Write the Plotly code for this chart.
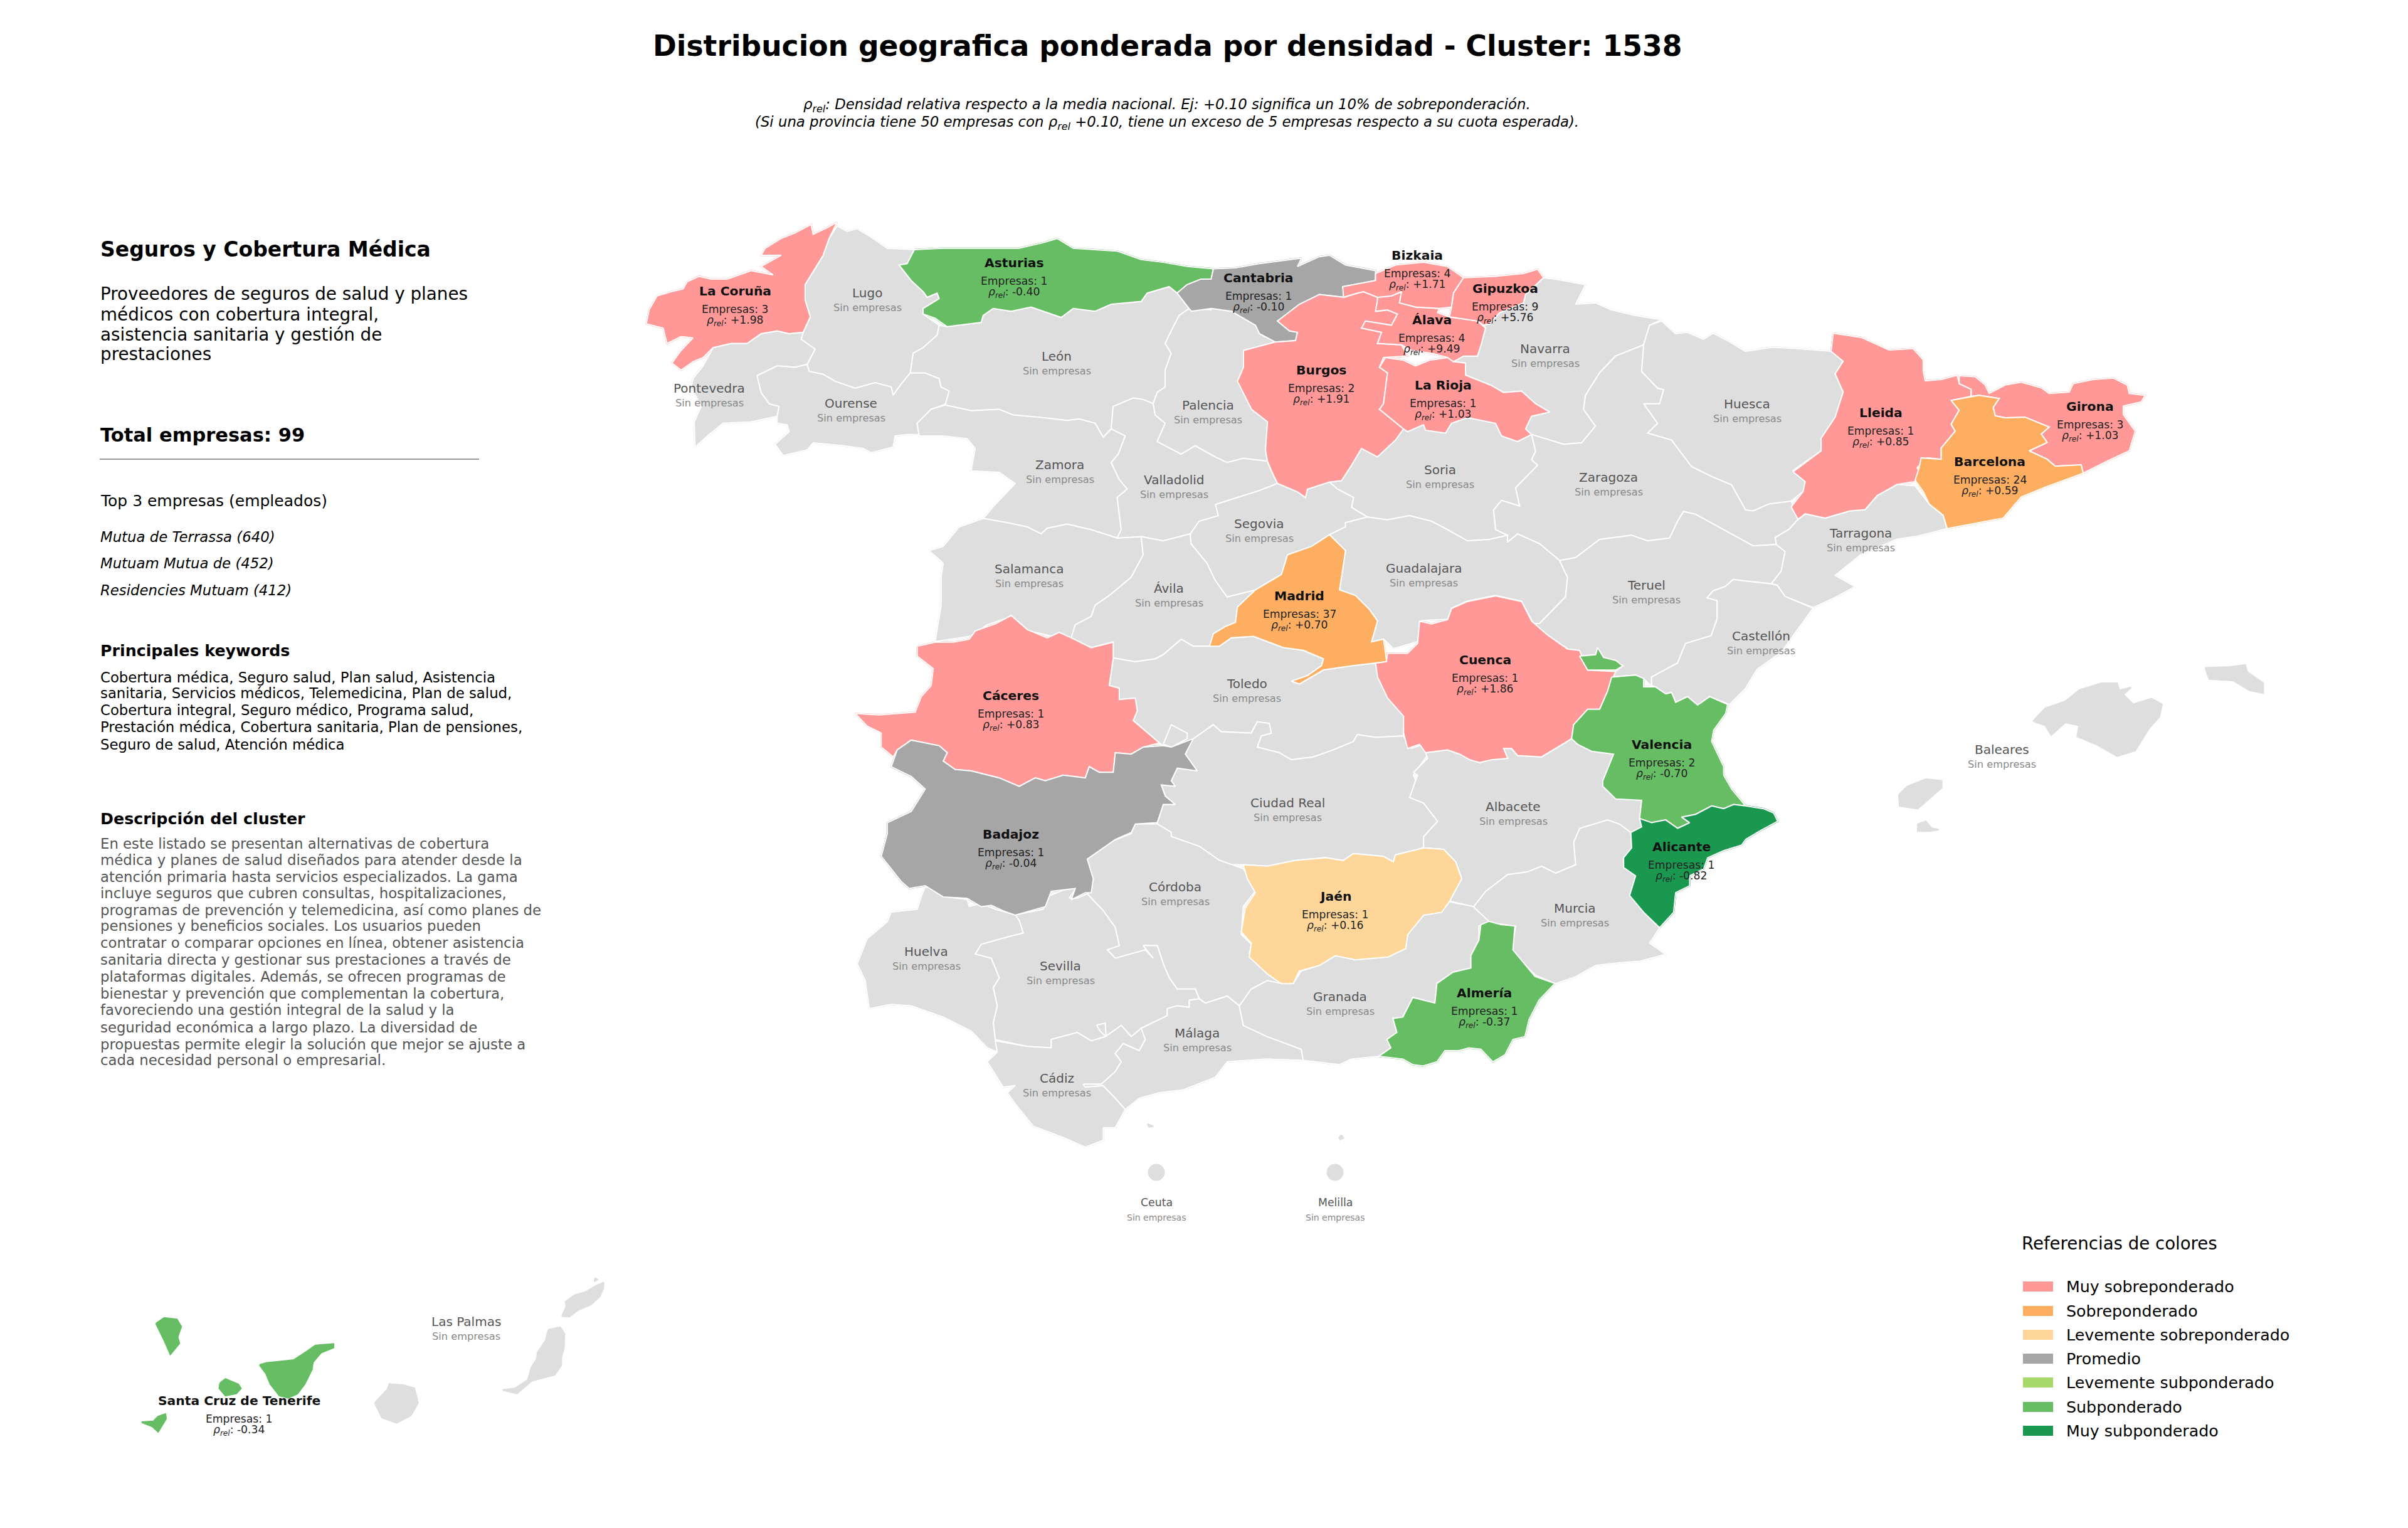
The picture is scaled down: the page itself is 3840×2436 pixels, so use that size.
import plotly.graph_objects as go

# ---------- outlines; each one is given in the frame named next to it
FRAMES = {
    "A": (1000, 340, .638, .4464), "B": (1900, 340, .638, .4464), "C": (2700, 500, .638, .4464),
    "D": (1300, 950, .638, .4464), "E": (2200, 950, .638, .4464), "F": (1300, 1300, .638, .4464),
    "G": (2100, 1300, .638, .4464), "H": (150, 1950, .574, .3333),
}
LA_CORUNA = [(525,32),(505,90),(490,150),(465,210),(445,255),(445,310),(458,370),(440,425),(405,430),(375,420),(335,430),(300,465),(260,465),(215,480),(190,515),(165,530),(135,560),(112,535),(135,490),(165,445),(135,440),(100,465),(90,410),(48,395),(55,345),(75,295),(110,280),(140,270),(150,245),(180,225),(210,235),(250,235),(310,205),(365,220),(335,190),(385,150),(335,150),(345,125),(385,90),(420,70),(460,40),(465,75),(495,55)]
LUGO = [(525,45),(550,65),(575,55),(610,85),(650,125),(718,130),(700,180),(680,185),(710,240),(740,280),(750,300),(775,285),(780,305),(740,340),(740,360),(780,400),(775,435),(740,480),(715,500),(708,570),(685,610),(665,650),(660,620),(620,605),(570,625),(520,600),(490,575),(455,565),(450,540),(470,485),(435,450),(440,425),(458,370),(445,310),(445,255),(465,210),(490,150),(505,90)]
PONTEVEDRA = [(440,425),(435,450),(470,485),(450,540),(420,550),(375,545),(325,580),(335,640),(355,680),(380,690),(375,725),(310,745),(240,750),(205,790),(170,835),(168,745),(185,690),(160,620),(165,590),(190,545),(215,480),(260,465),(300,465),(335,430),(375,420),(405,430)]
OURENSE = [(325,580),(375,545),(420,550),(450,540),(455,565),(490,575),(520,600),(570,625),(620,605),(660,620),(665,650),(685,610),(708,570),(745,570),(780,590),(785,620),(805,635),(800,680),(760,700),(725,750),(730,790),(700,790),(670,795),(665,835),(610,855),(590,840),(540,830),(465,820),(450,845),(390,865),(370,825),(405,780),(400,755),(375,750),(375,725),(380,690),(355,680),(335,640)]
ASTURIAS = [(718,130),(790,125),(890,125),(980,125),(1040,105),(1075,90),(1115,125),(1175,130),(1225,135),(1285,165),(1340,175),(1400,190),(1465,198),(1460,235),(1435,235),(1400,255),(1375,285),(1355,262),(1300,285),(1285,315),(1210,325),(1170,350),(1115,340),(1085,372),(1040,350),(1010,335),(960,350),(915,340),(890,365),(885,390),(800,405),(770,375),(740,360),(740,340),(780,305),(775,285),(750,300),(740,280),(710,240),(680,185),(700,180)]
LEON = [(780,400),(800,405),(885,390),(890,365),(915,340),(960,350),(1010,335),(1040,350),(1085,372),(1115,340),(1170,350),(1210,325),(1285,315),(1300,285),(1355,262),(1375,285),(1405,340),(1380,365),(1360,420),(1345,465),(1360,500),(1345,560),(1345,620),(1325,640),(1315,680),(1290,665),(1265,660),(1215,690),(1210,770),(1190,800),(1170,750),(1130,735),(1100,740),(1040,730),(965,720),(930,700),(860,705),(795,685),(805,635),(785,620),(780,590),(745,570),(708,570),(715,500),(740,480),(775,435)]
ZAMORA = [(795,685),(860,705),(930,700),(965,720),(1040,730),(1100,740),(1130,735),(1170,750),(1190,800),(1210,770),(1245,795),(1228,860),(1210,890),(1230,950),(1250,985),(1225,1015),(1235,1130),(1225,1160),(1160,1130),(1100,1110),(1050,1125),(1035,1145),(1000,1120),(950,1105),(890,1090),(920,1040),(970,965),(930,925),(860,920),(870,840),(850,805),(790,795),(730,795),(725,750),(760,700)]
SALAMANCA = [(890,1090),(950,1105),(1000,1120),(1035,1145),(1050,1125),(1100,1110),(1160,1130),(1225,1160),(1285,1155),(1290,1220),(1260,1300),(1210,1360),(1170,1400),(1160,1440),(1120,1470),(1110,1520),(1060,1510),(1000,1490),(960,1440),(900,1470),(860,1510),(770,1530),(785,1400),(785,1300),(790,1250),(755,1205),(790,1190),(830,1120)]
VALLADOLID = [(1210,770),(1215,690),(1265,660),(1290,665),(1315,680),(1320,720),(1345,750),(1325,815),(1345,830),(1385,860),(1420,830),(1470,870),(1500,890),(1540,875),(1600,885),(1610,920),(1626,965),(1581,990),(1471,1040),(1478,1080),(1430,1100),(1408,1145),(1340,1170),(1285,1155),(1225,1160),(1235,1130),(1225,1015),(1250,985),(1230,950),(1210,890),(1228,860),(1245,795)]
PALENCIA = [(1405,340),(1460,345),(1461,340),(1511,350),(1571,400),(1581,430),(1621,460),(1541,490),(1541,550),(1526,600),(1561,700),(1601,745),(1596,845),(1600,885),(1540,875),(1500,890),(1470,870),(1420,830),(1385,860),(1345,830),(1325,815),(1345,750),(1320,720),(1315,680),(1325,640),(1345,620),(1345,560),(1360,500),(1345,465),(1360,420),(1380,365)]
AVILA = [(1285,1155),(1340,1170),(1408,1145),(1410,1180),(1450,1250),(1470,1310),(1500,1370),(1571,1345),(1526,1406),(1521,1461),(1496,1476),(1466,1501),(1456,1546),(1415,1546),(1385,1521),(1340,1576),(1320,1591),(1270,1601),(1215,1588),(1215,1531),(1160,1551),(1110,1516),(1120,1470),(1160,1440),(1170,1400),(1210,1360),(1260,1300),(1290,1220)]
CANTABRIA = [(55,198),(110,195),(170,180),(220,170),(275,160),(265,190),(320,155),(345,150),(385,185),(460,205),(460,240),(378,262),(382,300),(320,290),(270,325),(215,385),(245,420),(265,425),(260,455),(210,460),(170,430),(160,400),(100,350),(50,340),(0,350),(-6,340),(-36,285),(-11,255),(24,235),(49,235)]
BIZKAIA = [(460,215),(510,185),(580,175),(640,190),(680,230),(655,285),(650,335),(620,340),(560,335),(520,320),(525,280),(500,295),(465,300),(430,280),(415,285),(380,300),(378,262),(460,240)]
GIPUZKOA = [(680,230),(760,225),(830,215),(865,200),(880,230),(835,290),(830,320),(770,355),(745,395),(730,400),(715,385),(645,370),(650,335),(655,285)]
ALAVA = [(465,300),(500,295),(525,280),(520,320),(560,335),(620,340),(615,355),(645,370),(715,385),(735,410),(725,465),(715,510),(680,510),(655,530),(640,515),(600,500),(550,490),(525,470),(465,465),(475,425),(425,410),(435,385),(500,400),(515,360),(490,345),(460,350),(465,310)]
BURGOS = [(130,490),(210,460),(260,455),(265,425),(245,420),(215,385),(270,325),(320,290),(382,300),(415,285),(430,280),(465,300),(465,350),(490,345),(515,360),(500,400),(435,385),(425,410),(475,425),(465,465),(525,470),(540,510),(480,515),(470,550),(490,570),(480,680),(470,700),(530,770),(510,810),(465,870),(425,840),(400,900),(375,955),(345,960),(290,985),(285,1015),(265,995),(215,965),(200,920),(190,885),(185,845),(190,745),(150,700),(115,600),(130,550)]
LA_RIOJA = [(485,515),(530,525),(560,545),(595,525),(640,515),(655,530),(685,535),(685,578),(750,615),(780,640),(825,635),(860,680),(895,710),(850,725),(835,770),(850,790),(815,815),(775,795),(760,750),(725,740),(690,730),(650,750),(635,785),(585,775),(580,755),(540,780),(530,770),(470,700),(480,680),(490,570),(470,550)]
NAVARRA = [(730,400),(745,395),(770,355),(830,320),(835,290),(880,230),(910,235),(985,255),(960,325),(1010,320),(1050,345),(1110,365),(1175,380),(1145,400),(1130,470),(1060,510),(1020,570),(985,650),(980,700),(1010,760),(975,820),(930,825),(850,790),(835,770),(850,725),(895,710),(860,680),(825,635),(780,640),(750,615),(685,578),(685,535),(655,530),(680,510),(715,510),(725,465),(735,410)]
HUESCA = [(1175,385),(1210,430),(1240,425),(1280,450),(1304,428),(1344,458),(1384,493),(1454,478),(1509,483),(1599,493),(1629,528),(1609,573),(1629,638),(1609,728),(1574,803),(1574,848),(1504,918),(1534,958),(1529,993),(1499,1028),(1444,1038),(1404,1063),(1385,1060),(1350,970),(1300,940),(1250,905),(1200,810),(1140,785),(1165,750),(1130,680),(1170,680),(1180,630),(1165,625),(1125,565),(1130,470),(1145,400)]
ZARAGOZA = [(850,790),(930,825),(975,820),(1010,760),(980,700),(985,650),(1020,570),(1060,510),(1130,470),(1125,565),(1165,625),(1180,630),(1170,680),(1130,680),(1165,750),(1140,785),(1200,810),(1250,905),(1300,940),(1350,970),(1385,1060),(1404,1063),(1444,1038),(1499,1028),(1516,1093),(1494,1128),(1459,1158),(1462,1183),(1404,1188),(1314,1118),(1260,1075),(1230,1065),(1215,1100),(1195,1160),(1140,1170),(1100,1150),(1020,1165),(960,1230),(920,1240),(870,1180),(815,1145),(790,1175),(790,1150),(760,1130),(755,1060),(775,1025),(820,1045),(810,980),(865,900),(850,880),(860,850)]
SORIA = [(530,770),(540,780),(580,755),(585,775),(635,785),(650,750),(690,730),(725,740),(760,750),(775,795),(815,815),(850,790),(860,850),(850,880),(865,900),(810,980),(820,1045),(775,1025),(755,1060),(760,1130),(790,1150),(745,1165),(690,1170),(640,1130),(600,1100),(545,1080),(490,1095),(440,1085),(400,1050),(405,1015),(365,985),(345,960),(375,955),(400,900),(425,840),(465,870),(510,810)]
SEGOVIA = [(215,965),(265,995),(285,1015),(290,985),(345,960),(365,985),(405,1015),(400,1050),(440,1085),(385,1105),(385,1120),(345,1148),(300,1190),(240,1220),(225,1290),(160,1345),(89,1370),(59,1310),(39,1250),(-1,1180),(-3,1145),(19,1100),(67,1080),(60,1040),(170,990)]
MADRID = [(345,1148),(385,1205),(375,1300),(370,1345),(410,1365),(445,1415),(465,1456),(450,1531),(480,1521),(488,1601),(460,1606),(400,1616),(330,1631),(300,1656),(270,1681),(250,1671),(290,1651),(325,1616),(330,1591),(280,1561),(230,1551),(155,1511),(100,1516),(70,1546),(45,1546),(55,1501),(85,1476),(110,1461),(115,1406),(160,1345),(225,1290),(240,1220),(300,1190)]
GUADALAJARA = [(440,1085),(490,1095),(545,1080),(600,1100),(640,1130),(690,1170),(745,1165),(790,1150),(790,1175),(815,1145),(870,1180),(920,1240),(940,1300),(935,1370),(870,1465),(855,1465),(825,1385),(760,1365),(690,1385),(650,1410),(640,1450),(575,1455),(565,1530),(505,1555),(480,1521),(450,1531),(465,1456),(445,1415),(410,1365),(370,1345),(375,1300),(385,1205),(345,1148),(385,1120),(385,1105)]
TERUEL = [(920,1240),(960,1230),(1020,1165),(1100,1150),(1140,1170),(1195,1160),(1215,1100),(1230,1065),(1260,1075),(1314,1118),(1404,1188),(1462,1183),(1484,1208),(1474,1278),(1449,1323),(1354,1308),(1334,1333),(1304,1348),(1289,1373),(1314,1383),(1314,1448),(1299,1508),(1254,1538),(1235,1536),(1215,1606),(1150,1656),(1150,1690),(1130,1661),(1110,1649),(1050,1656),(1060,1636),(1078,1616),(1030,1586),(1015,1551),(1010,1576),(970,1581),(970,1561),(940,1556),(890,1506),(855,1465),(870,1465),(935,1370),(940,1300)]
LLEIDA = [(350,70),(420,85),(490,130),(550,125),(575,165),(575,205),(580,240),(620,235),(660,220),(665,250),(695,270),(695,295),(645,310),(665,345),(645,395),(655,420),(640,445),(620,480),(620,520),(585,515),(560,550),(575,595),(510,610),(460,650),(430,700),(390,705),(330,730),(280,715),(262,735),(245,690),(275,635),(280,600),(250,565),(320,490),(320,445),(355,370),(375,280),(355,215),(375,170),(345,135)]
GIRONA = [(665,222),(705,225),(730,255),(740,285),(780,255),(820,245),(870,265),(890,285),(940,280),(950,250),(1000,235),(1050,230),(1085,255),(1090,285),(1130,292),(1120,315),(1075,330),(1075,360),(1105,420),(1090,490),(1030,530),(975,570),(970,540),(905,545),(885,520),(840,490),(885,460),(870,430),(890,405),(830,370),(780,372),(755,365),(750,335),(765,303),(715,292),(695,295),(695,270),(665,250)]
BARCELONA = [(645,310),(715,292),(765,303),(750,335),(755,365),(780,372),(830,370),(890,405),(870,430),(885,460),(840,490),(885,520),(905,545),(970,540),(975,570),(880,620),(820,655),(775,730),(635,768),(625,720),(590,680),(575,635),(555,595),(565,550),(570,515),(620,520),(620,480),(640,445),(655,420),(645,395),(665,345)]
TARRAGONA = [(262,735),(280,715),(330,730),(390,705),(430,700),(460,650),(510,610),(555,615),(590,680),(625,720),(635,768),(560,795),(510,805),(420,860),(355,935),(405,975),(360,1010),(300,1050),(230,1010),(210,970),(195,965),(220,920),(230,850),(208,825),(205,800),(240,770)]
CASTELLON = [(100,950),(195,965),(210,970),(230,1010),(300,1052),(265,1120),(220,1210),(160,1270),(130,1340),(91,1396),(41,1368),(11,1398),(-14,1368),(-44,1388),(-54,1353),(-69,1358),(-94,1333),(-104,1328),(-104,1298),(-39,1248),(-19,1178),(45,1150),(60,1090),(60,1025),(35,1015),(50,990),(80,975)]
CACERES = [(255,180),(300,165),(345,165),(385,155),(400,125),(450,100),(490,70),(530,120),(580,150),(610,130),(640,150),(690,185),(745,165),(745,222),(735,320),(760,330),(760,370),(800,365),(805,410),(795,445),(860,525),(820,540),(790,565),(750,560),(745,630),(710,630),(685,610),(675,650),(620,640),(575,660),(550,650),(510,680),(460,650),(390,625),(350,620),(320,590),(330,560),(310,535),(240,515),(205,550),(195,575),(165,540),(165,490),(130,465),(100,420),(160,425),(250,415),(265,360),(290,320),(295,260),(255,215)]
BADAJOZ = [(240,515),(310,535),(330,560),(320,590),(350,620),(390,625),(460,650),(510,680),(550,650),(575,660),(620,640),(675,650),(685,610),(710,630),(745,630),(750,560),(790,565),(820,540),(870,535),(890,540),(945,510),(925,565),(955,625),(905,615),(890,660),(900,680),(865,675),(875,715),(900,745),(870,745),(855,810),(800,815),(790,845),(750,870),(680,940),(695,1010),(690,1060),(675,1060),(640,1085),(650,1045),(590,1055),(575,1110),(500,1140),(470,1125),(440,1105),(415,1110),(380,1080),(320,1075),(275,1035),(235,1045),(215,1020),(165,930),(180,850),(180,810),(240,770),(275,690),(240,645),(190,610),(205,550)]
TOLEDO = [(745,222),(800,235),(850,225),(870,210),(915,155),(945,180),(985,180),(1010,180),(1040,150),(1095,145),(1170,185),(1220,195),(1270,225),(1265,250),(1230,285),(1190,305),(1210,315),(1270,265),(1340,250),(1400,240),(1420,310),(1445,370),(1475,430),(1470,500),(1400,505),(1355,495),(1345,520),(1295,550),(1245,575),(1190,585),(1160,560),(1105,540),(1115,500),(1140,490),(1135,455),(1105,450),(1090,490),(1015,485),(995,460),(950,510),(890,540),(870,535),(860,525),(795,445),(805,410),(800,365),(760,370),(760,330),(735,320)]
TOLEDO_ENCLAVE = [(870,530),(890,460),(930,490),(930,510),(890,540)]
CIUDAD_REAL = [(955,625),(925,565),(945,510),(995,460),(1015,485),(1090,490),(1105,450),(1135,455),(1140,490),(1115,500),(1105,540),(1160,560),(1190,585),(1245,575),(1295,550),(1345,520),(1355,495),(1400,505),(1470,500),(1490,545),(1520,530),(1530,570),(1495,640),(1505,670),(1486,720),(1521,740),(1556,805),(1521,860),(1521,900),(1450,925),(1445,950),(1420,930),(1345,920),(1320,945),(1275,935),(1200,945),(1130,965),(1070,960),(1020,960),(960,900),(890,860),(855,820),(855,810),(870,745),(900,745),(875,715),(865,675),(900,680),(890,660),(905,615)]
JAEN = [(1070,960),(1130,965),(1200,945),(1275,935),(1320,945),(1345,920),(1420,930),(1445,950),(1450,925),(1521,900),(1571,905),(1601,950),(1616,1010),(1586,1090),(1566,1130),(1521,1140),(1481,1210),(1476,1260),(1431,1290),(1390,1295),(1350,1300),(1300,1285),(1260,1320),(1210,1340),(1195,1385),(1165,1385),(1130,1350),(1085,1290),(1090,1240),(1065,1200),(1075,1115),(1100,1060),(1080,1010)]
CUENCA = [(-10,240),(17,235),(20,205),(70,205),(95,170),(100,90),(130,100),(170,85),(180,45),(220,20),(290,0),(355,20),(380,90),(420,140),(470,190),(500,195),(520,265),(590,270),(570,340),(550,405),(520,405),(485,460),(480,510),(405,575),(345,570),(330,545),(310,545),(320,580),(280,585),(250,595),(225,585),(200,565),(170,550),(115,560),(100,530),(70,545),(60,490),(60,430),(20,365),(-5,290)]
ADEMUZ = [(500,215),(540,210),(545,185),(560,220),(590,230),(608,250),(590,265),(520,265)]
VALENCIA = [(580,290),(640,283),(660,295),(660,325),(690,325),(715,350),(730,345),(740,380),(770,360),(795,390),(825,360),(870,388),(865,420),(835,480),(830,520),(860,610),(860,640),(880,690),(915,750),(885,745),(860,760),(830,750),(790,780),(755,790),(775,810),(745,830),(715,800),(680,810),(650,795),(655,730),(590,725),(558,680),(558,660),(585,565),(530,555),(495,530),(480,510),(485,460),(520,405),(550,405),(570,340)]
ALICANTE = [(650,795),(680,810),(715,800),(745,830),(775,810),(755,790),(790,780),(830,750),(860,760),(885,745),(915,750),(960,760),(985,775),(995,805),(950,840),(915,870),(905,890),(860,910),(820,935),(810,975),(775,1000),(775,1035),(740,1060),(735,1130),(700,1185),(660,1130),(625,1070),(640,1000),(610,970),(610,935),(630,900),(628,845),(655,825)]
MURCIA = [(628,845),(630,900),(610,935),(610,970),(640,1000),(625,1070),(660,1130),(700,1185),(675,1240),(715,1280),(650,1305),(600,1310),(540,1320),(490,1360),(440,1385),(390,1355),(330,1270),(340,1180),(270,1165),(235,1110),(265,1055),(320,995),(370,985),(405,965),(440,990),(490,960),(485,880),(500,830),(570,800),(600,815),(640,840)]
ALBACETE = [(115,560),(170,550),(200,565),(225,585),(250,595),(280,585),(320,580),(310,545),(330,545),(345,570),(405,575),(480,510),(495,530),(530,555),(585,565),(558,660),(558,680),(590,725),(655,730),(650,795),(655,825),(628,845),(600,815),(570,800),(500,830),(485,880),(490,960),(440,990),(405,965),(370,985),(320,995),(265,1055),(235,1110),(175,1090),(205,1010),(190,950),(160,905),(110,900),(110,860),(145,805),(110,740),(75,720),(95,640),(85,630),(120,580)]
CORDOBA = [(855,30),(890,60),(890,75),(960,110),(1010,160),(1070,190),(1085,220),(1100,270),(1070,325),(1065,425),(1090,460),(1085,495),(1130,550),(1165,600),(1130,590),(1090,620),(1060,680),(1030,645),(975,670),(960,655),(950,620),(905,620),(885,580),(870,530),(855,465),(820,465),(845,510),(825,480),(750,510),(730,480),(760,465),(750,400),(720,340),(680,280),(690,270),(695,225),(680,190),(680,155),(745,90),(790,65),(800,30)]
SEVILLA = [(500,355),(570,335),(580,290),(640,255),(650,265),(635,295),(655,295),(680,280),(720,340),(750,400),(760,465),(730,480),(750,510),(825,480),(845,510),(820,465),(855,465),(870,530),(885,580),(905,620),(950,620),(960,655),(935,660),(935,685),(905,680),(880,690),(880,715),(815,760),(790,790),(765,750),(725,790),(690,805),(655,775),(590,800),(590,830),(530,825),(450,800),(445,740),(455,680),(445,615),(460,580),(440,510),(400,495),(415,460),(490,430),(520,420),(510,375)]
SEVILLA_ENCLAVE = [(703,748),(725,742),(727,790),(712,770)]
HUELVA = [(275,255),(315,265),(320,290),(380,300),(385,325),(415,315),(450,335),(500,355),(510,375),(520,420),(490,430),(415,460),(400,495),(440,510),(460,580),(445,615),(455,680),(445,740),(450,800),(455,845),(430,830),(390,770),(320,720),(240,680),(190,675),(135,690),(125,590),(105,530),(130,440),(180,380),(190,345),(255,335),(265,290)]
CADIZ = [(450,805),(530,825),(590,830),(590,800),(655,775),(690,805),(725,790),(765,750),(790,790),(815,760),(825,800),(810,840),(770,815),(750,850),(765,880),(750,915),(715,960),(670,960),(675,970),(720,965),(750,1010),(775,1050),(750,1115),(720,1115),(720,1160),(675,1185),(620,1150),(545,1110),(500,1030),(480,990),(500,965),(470,970),(430,880),(455,845)]
MALAGA = [(815,760),(880,715),(880,690),(905,680),(935,685),(935,660),(960,655),(975,670),(1030,645),(1060,680),(1070,750),(1130,790),(1215,835),(1220,875),(1130,870),(1030,880),(1000,935),(920,980),(860,990),(810,1010),(775,1050),(750,1010),(720,965),(675,970),(670,960),(715,960),(750,915),(765,880),(750,850),(770,815),(810,840),(825,800)]
GRANADA = [(1060,680),(1090,620),(1130,590),(1165,600),(1195,600),(1215,555),(1260,535),(1300,500),(1350,515),(1430,505),(1476,475),(1481,425),(1521,355),(1566,345),(1574,305),(1644,325),(1684,378),(1659,395),(1659,445),(1639,500),(1639,545),(1594,560),(1554,600),(1549,670),(1494,650),(1469,720),(1444,725),(1454,775),(1429,800),(1439,830),(1409,860),(1340,870),(1310,890),(1220,875),(1215,835),(1130,790),(1070,750)]
ALMERIA = [(430,378),(460,390),(495,395),(490,480),(545,575),(595,600),(555,660),(530,730),(520,790),(490,800),(470,855),(440,880),(410,835),(380,830),(355,840),(320,840),(300,880),(265,895),(240,890),(215,870),(155,860),(185,830),(175,800),(200,775),(190,725),(215,720),(240,650),(295,670),(300,600),(340,560),(385,545),(385,500),(405,445),(410,390)]
MALLORCA = [(850,1455),(880,1410),(930,1385),(965,1345),(1020,1320),(1060,1320),(1065,1345),(1095,1335),(1075,1360),(1100,1395),(1145,1375),(1172,1395),(1165,1440),(1140,1480),(1105,1560),(1060,1580),(1010,1540),(960,1510),(965,1470),(930,1460),(895,1505),(880,1470)]
MENORCA = [(1280,1265),(1340,1262),(1380,1255),(1385,1280),(1425,1320),(1425,1355),(1390,1345),(1350,1310),(1290,1305)]
IBIZA = [(1298,710),(1320,680),(1365,655),(1405,660),(1405,685),(1370,730),(1345,760),(1300,750)]
FORMENTERA = [(1345,815),(1365,805),(1380,830),(1398,835),(1375,840),(1345,840)]
LA_PALMA = [(172,480),(195,453),(230,460),(242,495),(232,545),(237,575),(212,627),(195,560)]
TENERIFE = [(460,678),(480,668),(515,662),(555,655),(590,615),(615,585),(665,578),(665,595),(630,620),(608,665),(605,700),(585,770),(565,815),(540,835),(515,825),(490,770),(478,720)]
LA_GOMERA = [(350,765),(365,745),(400,770),(408,790),(395,815),(365,825),(348,790)]
EL_HIERRO = [(132,952),(165,948),(178,925),(198,913),(200,935),(178,998),(162,972)]
GRAN_CANARIA = [(780,860),(815,795),(820,770),(860,775),(890,790),(900,860),(880,920),(840,955),(800,930)]
FUERTEVENTURA = [(1262,510),(1295,498),(1307,530),(1305,600),(1298,640),(1298,680),(1280,725),(1215,755),(1175,815),(1135,798),(1170,790),(1205,750),(1215,690),(1230,650),(1232,620),(1255,560)]
LANZAROTE = [(1300,445),(1312,400),(1310,375),(1335,345),(1365,330),(1395,300),(1415,285),(1415,310),(1405,350),(1380,390),(1345,415),(1320,448)]
GRACIOSA = [(1392,262),(1398,270),(1390,278)]
ISLOTE_CEUTA = [(830,1102),(845,1110),(835,1112)]
ISLOTE_MELILLA = [(1315,1142),(1320,1152),(1312,1157),(1310,1150)]

# ---------- colours and categories
COL_NONE = "#dedede"
COL_MUY_SOBRE = "#ff9896"
COL_SOBRE = "#fdae61"
COL_LEVE_SOBRE = "#fed699"
COL_PROM = "#a6a6a6"
COL_LEVE_SUB = "#a6d96a"
COL_SUB = "#66bd63"
COL_MUY_SUB = "#1a9850"

SHAPES = [
    ("A", LUGO, COL_NONE), ("A", PONTEVEDRA, COL_NONE), ("A", OURENSE, COL_NONE), ("A", LEON, COL_NONE),
    ("A", ZAMORA, COL_NONE), ("A", SALAMANCA, COL_NONE), ("A", VALLADOLID, COL_NONE), ("A", PALENCIA, COL_NONE),
    ("A", AVILA, COL_NONE), ("B", NAVARRA, COL_NONE), ("B", HUESCA, COL_NONE), ("B", ZARAGOZA, COL_NONE),
    ("B", SORIA, COL_NONE), ("B", SEGOVIA, COL_NONE), ("B", GUADALAJARA, COL_NONE), ("B", TERUEL, COL_NONE),
    ("C", TARRAGONA, COL_NONE), ("C", CASTELLON, COL_NONE), ("D", TOLEDO, COL_NONE), ("D", TOLEDO_ENCLAVE, COL_NONE),
    ("D", CIUDAD_REAL, COL_NONE), ("E", MURCIA, COL_NONE), ("E", ALBACETE, COL_NONE), ("F", CORDOBA, COL_NONE),
    ("F", SEVILLA, COL_NONE), ("F", HUELVA, COL_NONE), ("F", CADIZ, COL_NONE), ("F", SEVILLA_ENCLAVE, COL_NONE),
    ("F", MALAGA, COL_NONE), ("F", GRANADA, COL_NONE),
    ("A", LA_CORUNA, COL_MUY_SOBRE), ("A", ASTURIAS, COL_SUB), ("B", CANTABRIA, COL_PROM),
    ("B", BURGOS, COL_MUY_SOBRE), ("B", LA_RIOJA, COL_MUY_SOBRE), ("B", ALAVA, COL_MUY_SOBRE), ("B", BIZKAIA, COL_MUY_SOBRE),
    ("B", GIPUZKOA, COL_MUY_SOBRE), ("C", LLEIDA, COL_MUY_SOBRE), ("C", GIRONA, COL_MUY_SOBRE), ("C", BARCELONA, COL_SOBRE),
    ("B", MADRID, COL_SOBRE), ("D", CACERES, COL_MUY_SOBRE), ("D", BADAJOZ, COL_PROM), ("E", CUENCA, COL_MUY_SOBRE),
    ("E", VALENCIA, COL_SUB), ("E", ADEMUZ, COL_SUB), ("E", ALICANTE, COL_MUY_SUB), ("D", JAEN, COL_LEVE_SOBRE),
    ("G", ALMERIA, COL_SUB),
]
ISLANDS = [
    ("C", MALLORCA, COL_NONE), ("C", MENORCA, COL_NONE), ("E", IBIZA, COL_NONE), ("E", FORMENTERA, COL_NONE),
    ("H", GRAN_CANARIA, COL_NONE), ("H", FUERTEVENTURA, COL_NONE), ("H", LANZAROTE, COL_NONE), ("H", GRACIOSA, COL_NONE),
    ("F", ISLOTE_CEUTA, COL_NONE), ("F", ISLOTE_MELILLA, COL_NONE),
    ("H", LA_PALMA, COL_SUB), ("H", TENERIFE, COL_SUB), ("H", LA_GOMERA, COL_SUB), ("H", EL_HIERRO, COL_SUB),
]

# ---------- labels
ACTIVE_NAMES = ["La Coruña", "Asturias", "Cantabria", "Bizkaia", "Gipuzkoa", "Álava", "Burgos", "La Rioja", "Madrid", "Lleida", "Girona", "Barcelona", "Cáceres", "Badajoz", "Jaén", "Cuenca", "Valencia", "Alicante", "Almería", "Santa Cruz de Tenerife"]
ACTIVE_X = [1172, 1617, 2007, 2260, 2400, 2283, 2107, 2301, 2072, 2999, 3333, 3173, 1612, 1612, 2129, 2368, 2650, 2681, 2367, 381]
ACTIVE_Y = [464, 419, 443, 407, 460, 510, 590, 614, 950, 658, 648, 736, 1109, 1330, 1429, 1052, 1187, 1350, 1583, 2233]
ACTIVE_EMPRESAS = [3, 1, 1, 4, 9, 4, 2, 1, 37, 1, 3, 24, 1, 1, 1, 1, 2, 1, 1, 1]
ACTIVE_RHO = ["+1.98", "-0.40", "-0.10", "+1.71", "+5.76", "+9.49", "+1.91", "+1.03", "+0.70", "+0.85", "+1.03", "+0.59", "+0.83", "-0.04", "+0.16", "+1.86", "-0.70", "-0.82", "-0.37", "-0.34"]
EMPTY_NAMES = ["Lugo", "Pontevedra", "Ourense", "León", "Zamora", "Valladolid", "Palencia", "Salamanca", "Ávila", "Navarra", "Huesca", "Soria", "Zaragoza", "Segovia", "Guadalajara", "Teruel", "Tarragona", "Castellón", "Toledo", "Ciudad Real", "Córdoba", "Huelva", "Sevilla", "Granada", "Albacete", "Murcia", "Baleares", "Málaga", "Cádiz", "Las Palmas"]
EMPTY_X = [1383, 1131, 1357, 1685, 1690, 1872, 1926, 1641, 1864, 2464, 2786, 2296, 2565, 2008, 2270, 2625, 2967, 2808, 1988, 2053, 1874, 1477, 1691, 2137, 2413, 2511, 3192, 1909, 1685, 743]
EMPTY_Y = [467, 619, 643, 568, 741, 765, 646, 907, 938, 556, 644, 749, 761, 835, 906, 933, 850, 1014, 1090, 1280, 1414, 1517, 1540, 1589, 1286, 1448, 1195, 1647, 1719, 2107]
CITY_NAMES = ["Ceuta", "Melilla"]
CITY_X = [1844, 2129]
CITY_Y = [1869, 1869]
CITY_LABEL_Y = [1917, 1917]

TITLE = "Distribucion geografica ponderada por densidad - Cluster: 1538"
SUB_LINES = ["<i>ρ<sub>rel</sub>: Densidad relativa respecto a la media nacional. Ej: +0.10 significa un 10% de sobreponderación.</i>",
             "<i>(Si una provincia tiene 50 empresas con ρ<sub>rel</sub> +0.10, tiene un exceso de 5 empresas respecto a su cuota esperada).</i>"]
HEAD = "Seguros y Cobertura Médica"
LEAD = ["Proveedores de seguros de salud y planes", "médicos con cobertura integral,", "asistencia sanitaria y gestión de", "prestaciones"]
LEAD_Y = [468, 501, 533, 564]
TOP3 = ["Mutua de Terrassa (640)", "Mutuam Mutua de (452)", "Residencies Mutuam (412)"]
TOP3_Y = [856, 898, 941]
KEYWORDS = ["Cobertura médica, Seguro salud, Plan salud, Asistencia", "sanitaria, Servicios médicos, Telemedicina, Plan de salud,", "Cobertura integral, Seguro médico, Programa salud,", "Prestación médica, Cobertura sanitaria, Plan de pensiones,", "Seguro de salud, Atención médica"]
KEYWORDS_Y = [1080, 1105, 1132, 1159, 1187]
DESC = ["En este listado se presentan alternativas de cobertura", "médica y planes de salud diseñados para atender desde la", "atención primaria hasta servicios especializados. La gama", "incluye seguros que cubren consultas, hospitalizaciones,", "programas de prevención y telemedicina, así como planes de", "pensiones y beneficios sociales. Los usuarios pueden", "contratar o comparar opciones en línea, obtener asistencia", "sanitaria directa y gestionar sus prestaciones a través de", "plataformas digitales. Además, se ofrecen programas de", "bienestar y prevención que complementan la cobertura,", "favoreciendo una gestión integral de la salud y la", "seguridad económica a largo plazo. La diversidad de", "propuestas permite elegir la solución que mejor se ajuste a", "cada necesidad personal o empresarial."]
DESC_Y = [1345, 1371, 1398, 1424, 1451, 1476, 1503, 1530, 1557, 1584, 1610, 1638, 1665, 1690]
LEGEND_LABELS = ["Muy sobreponderado", "Sobreponderado", "Levemente sobreponderado", "Promedio", "Levemente subponderado", "Subponderado", "Muy subponderado"]
LEGEND_COLORS = [COL_MUY_SOBRE, COL_SOBRE, COL_LEVE_SOBRE, COL_PROM, COL_LEVE_SUB, COL_SUB, COL_MUY_SUB]
LEGEND_Y = [2051, 2090, 2128, 2166, 2204, 2243, 2281]

FONT = "DejaVu Sans"
fig = go.Figure()


def to_px(frame, pts):
    ox, oy, sx, sy = FRAMES[frame]
    xs = [ox + p[0] * sx for p in pts]
    ys = [oy + p[1] * sy for p in pts]
    return xs + xs[:1], ys + ys[:1]


for frame, pts, col in SHAPES + ISLANDS:
    xs, ys = to_px(frame, pts)
    fig.add_trace(go.Scatter(x=xs, y=ys, mode="lines", fill="toself", fillcolor=col,
                             line=dict(color=col, width=2.5), hoverinfo="skip", showlegend=False))
for frame, pts, col in SHAPES:
    xs, ys = to_px(frame, pts)
    fig.add_trace(go.Scatter(x=xs, y=ys, mode="lines", fill="toself", fillcolor=col,
                             line=dict(color="white", width=2), hoverinfo="skip", showlegend=False))

fig.add_trace(go.Scatter(x=CITY_X, y=CITY_Y, mode="markers", text=CITY_NAMES, hoverinfo="skip", showlegend=False,
                         marker=dict(size=27, color=COL_NONE, line=dict(width=0))))

ann = []


def label(x, y, text, size, color="black", anchor="center"):
    ann.append(dict(x=x, y=y, xref="x", yref="y", text=text, showarrow=False, xanchor=anchor, yanchor="middle",
                    borderpad=0, font=dict(family=FONT, size=size, color=color)))


for n, x, y, e, r in zip(ACTIVE_NAMES, ACTIVE_X, ACTIVE_Y, ACTIVE_EMPRESAS, ACTIVE_RHO):
    label(x, y, f"<b>{n}</b>", 20.3, "#111111")
    label(x, y + 29, f"Empresas: {e}", 17.2, "#222222")
    label(x, y + 47, f"<i>ρ<sub>rel</sub></i>: {r}", 17.2, "#222222")
for n, x, y in zip(EMPTY_NAMES, EMPTY_X, EMPTY_Y):
    label(x, y, n, 20, "#555555")
    label(x, y + 23, "Sin empresas", 16.2, "#888888")
for n, x, y in zip(CITY_NAMES, CITY_X, CITY_LABEL_Y):
    label(x, y, n, 17.3, "#555555")
    label(x, y + 24, "Sin empresas", 14, "#888888")

label(1861, 73, f"<b>{TITLE}</b>", 45.6)
label(1861, 168, SUB_LINES[0], 22.8)
label(1861, 196, SUB_LINES[1], 22.8)

LEFT = 159
label(LEFT, 397, f"<b>{HEAD}</b>", 33, anchor="left")
for t, y in zip(LEAD, LEAD_Y):
    label(LEFT, y, t, 27.8, anchor="left")
label(LEFT, 693, "<b>Total empresas: 99</b>", 30.5, anchor="left")
label(LEFT, 798, "Top 3 empresas (empleados)", 25, anchor="left")
for t, y in zip(TOP3, TOP3_Y):
    label(LEFT, y, f"<i>{t}</i>", 22.8, anchor="left")
label(LEFT, 1037, "<b>Principales keywords</b>", 25.3, anchor="left")
for t, y in zip(KEYWORDS, KEYWORDS_Y):
    label(LEFT, y, t, 22.8, anchor="left")
label(LEFT, 1305, "<b>Descripción del cluster</b>", 25.3, anchor="left")
for t, y in zip(DESC, DESC_Y):
    label(LEFT, y, t, 22.8, "#555555", anchor="left")

label(3223, 1982, "Referencias de colores", 27.6, anchor="left")
shapes = [dict(type="line", xref="x", yref="y", x0=159, x1=764, y0=732, y1=732, line=dict(color="#999999", width=2))]
for t, c, y in zip(LEGEND_LABELS, LEGEND_COLORS, LEGEND_Y):
    shapes.append(dict(type="rect", xref="x", yref="y", x0=3226, x1=3274, y0=y - 8, y1=y + 8, fillcolor=c, line=dict(width=0)))
    label(3294, y, t, 25.3, anchor="left")

fig.update_layout(width=3840, height=2436, autosize=False, margin=dict(l=0, r=0, t=0, b=0),
                  paper_bgcolor="white", plot_bgcolor="white", showlegend=False,
                  annotations=ann, shapes=shapes,
                  xaxis=dict(range=[0, 3840], visible=False, fixedrange=True),
                  yaxis=dict(range=[2436, 0], visible=False, fixedrange=True))
fig.write_html("out.html", config=dict(displayModeBar=False), post_script="document.body.style.margin='0';")
